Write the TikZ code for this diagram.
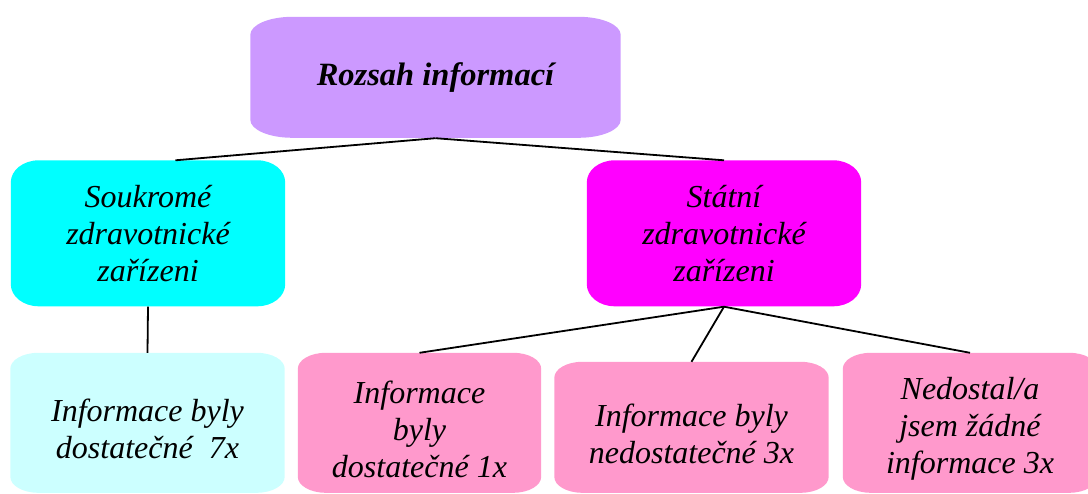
\documentclass[tikz,border=0pt]{standalone}
\usepackage{fontspec}
\setmainfont{Liberation Serif}
\usetikzlibrary{calc,backgrounds}

\definecolor{topviolet}{HTML}{CC99FF}
\definecolor{boxcyan}{HTML}{00FFFF}
\definecolor{boxmagenta}{HTML}{FF00FF}
\definecolor{palecyan}{HTML}{CCFFFF}
\definecolor{boxpink}{HTML}{FF99CC}

\tikzset{
  orgbox/.style={rectangle, inner sep=0pt, align=center,
    font=\fontsize{32}{37}\selectfont\itshape, text=black},
  link/.style={draw=black, line width=1.8pt},
}

% Fill behind a node: box of the node's width, given height from its top edge,
% with elliptical corners of radii #3 (horizontal) and #4 (vertical).
\newcommand{\ellfill}[5]{%
  \fill[#2] let \p1=(#1.north west), \p2=(#1.north east) in
    (\x1+#3,\y1) -- (\x2-#3,\y1)
    arc[start angle=90, end angle=0, x radius=#3, y radius=#4]
    -- (\x2,\y1-#5+#4)
    arc[start angle=0, end angle=-90, x radius=#3, y radius=#4]
    -- (\x1+#3,\y1-#5)
    arc[start angle=-90, end angle=-180, x radius=#3, y radius=#4]
    -- (\x1,\y1-#4)
    arc[start angle=180, end angle=90, x radius=#3, y radius=#4]
    -- cycle;}

\begin{document}
\begin{tikzpicture}[x=1pt, y=-1pt]
  \useasboundingbox (0,0) rectangle (1088,494);

  % root
  \node[orgbox, minimum width=370pt, minimum height=121pt,
        font=\fontsize{32.5}{37}\selectfont\bfseries\itshape]
    (root) at (435.5,77.5) {Rozsah informací};

  % second level
  \node[orgbox, minimum width=274pt, minimum height=146pt]
    (soukr) at (148,233.5) {Soukromé\\zdravotnické\\zařízeni};
  \node[orgbox, minimum width=274pt, minimum height=146pt]
    (statni) at (724,233.5) {Státní\\zdravotnické\\zařízeni};

  % third level
  \node[orgbox, minimum width=274pt, minimum height=152pt]
    (b1) at (147.5,429) {Informace byly\\dostatečné~~7x};
  \node[orgbox, minimum width=243pt, minimum height=152pt]
    (b2) at (419.5,429) {Informace\\byly\\dostatečné 1x};
  \node[orgbox, minimum width=274pt, minimum height=143pt]
    (b3) at (691.5,433.5) {Informace byly\\nedostatečné 3x};
  \node[orgbox, minimum width=254pt, minimum height=152pt]
    (b4) at (970,429) {Nedostal/a\\jsem žádné\\informace 3x};

  % box backgrounds
  \begin{scope}[on background layer]
    \ellfill{root}{topviolet}{42pt}{18pt}{121pt}
    \ellfill{soukr}{boxcyan}{28pt}{22pt}{146pt}
    \ellfill{statni}{boxmagenta}{28pt}{22pt}{146pt}
    \ellfill{b1}{palecyan}{28pt}{16pt}{140pt}
    \ellfill{b2}{boxpink}{28pt}{16pt}{140pt}
    \ellfill{b3}{boxpink}{28pt}{16pt}{131pt}
    \ellfill{b4}{boxpink}{28pt}{16pt}{140pt}
  \end{scope}

  % connectors
  \draw[link] (root.south) -- ($(soukr.north west)!0.6!(soukr.north east)$);
  \draw[link] (root.south) -- (statni.north);
  \draw[link] (soukr.south) -- (b1.north);
  \draw[link] (statni.south) -- (b2.north);
  \draw[link] (statni.south) -- (b3.north);
  \draw[link] (statni.south) -- (b4.north);
\end{tikzpicture}
\end{document}
